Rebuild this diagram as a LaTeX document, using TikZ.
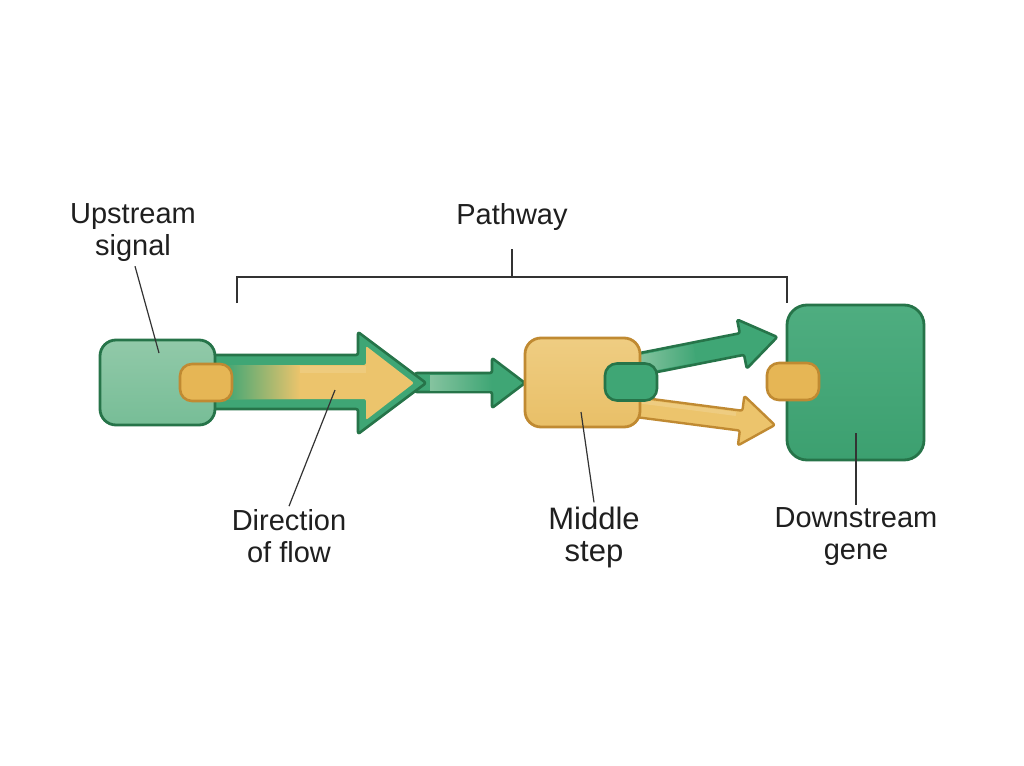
\documentclass[tikz,border=0pt]{standalone}
\usepackage{fontspec}
\setmainfont{Liberation Sans}
\definecolor{gdark}{HTML}{267449}
\definecolor{gmid}{HTML}{3FA675}
\definecolor{glight}{HTML}{85C39F}
\definecolor{yfill}{HTML}{ECC46C}
\definecolor{ydark}{HTML}{C08A32}
\definecolor{ypill}{HTML}{E6B655}
\definecolor{linec}{HTML}{333333}
\begin{document}
\begin{tikzpicture}[x=1pt,y=-1pt,
  box/.style={draw=gdark, line width=2.8pt, rounded corners=16pt, inner sep=0pt},
  ybox/.style={box, draw=ydark},
  pill/.style={rounded corners=12pt, line width=2.6pt, minimum width=52pt, minimum height=37pt, inner sep=0pt},
  ypillst/.style={pill, draw=ydark, fill=ypill},
  gpillst/.style={pill, draw=gdark, fill=gmid},
  garrow/.style={draw=gdark, line width=2.6pt, fill=gmid, rounded corners=2pt, line join=round},
  yarrow/.style={draw=ydark, line width=2.4pt, fill=yfill, rounded corners=2pt, line join=round},
  lbl/.style={font=\fontsize{29}{32}\selectfont, align=center, text=black!88, inner sep=0pt},
  leader/.style={draw=linec, line width=1.2pt}]
\useasboundingbox[fill=white] (0,0) rectangle (1024,765);

% small green arrow between big arrow and middle step
\draw[garrow] (415,373) -- (492,373) -- (492,358) -- (525,383) -- (492,408) -- (492,392) -- (415,392) -- cycle;
\begin{scope}
  \clip (430,375) rectangle (492,390);
  \shade[left color=glight, right color=gmid] (430,375) rectangle (492,390);
\end{scope}

% upper green arrow
\begin{scope}[shift={(636,365)}, rotate=11.2]
  \draw[garrow] (0,-11) -- (108,-11) -- (108,-25) -- (144,0) -- (108,25) -- (108,11) -- (0,11) -- cycle;
  \shade[left color=glight, right color=gmid] (5,-9) rectangle (60,9);
\end{scope}

% lower yellow arrow
\begin{scope}[shift={(636,407)}, rotate=-7.4]
  \draw[yarrow] (0,-10) -- (106,-10) -- (106,-25) -- (140,0) -- (106,25) -- (106,10) -- (0,10) -- cycle;
  \fill[white, opacity=.15] (4,-8) rectangle (100,-4);
\end{scope}

% big arrow (green outline, yellow inside)
\draw[garrow] (205,355) -- (358,355) -- (358,332) -- (426,383) -- (358,434) -- (358,409) -- (205,409) -- cycle;
\begin{scope}
  \clip[rounded corners=2pt] (225,365) -- (366,365) -- (366,346) -- (414,383) -- (366,420) -- (366,399) -- (225,399) -- cycle;
  \fill[yfill] (220,340) rectangle (420,425);
  \shade[left color=gmid, right color=yfill] (225,360) rectangle (300,405);
  \fill[white, opacity=.12] (300,366) rectangle (366,373);
\end{scope}

% upstream signal box
\node[box, minimum width=115pt, minimum height=85pt, top color=glight!90!white, bottom color=glight!80!gmid] (up) at (157.5,382.5) {};
\node[ypillst] (uppill) at (206,382.5) {};

% middle step box
\node[ybox, minimum width=115pt, minimum height=89pt, top color=yfill!85!white, bottom color=yfill!92!ydark] (mid) at (582.5,382.5) {};
\node[gpillst] (midpill) at (631,382) {};

% downstream gene box
\node[box, minimum width=137pt, minimum height=155pt, rounded corners=20pt, top color=gmid!92!white, bottom color=gmid!88!gdark] (down) at (855.5,382.5) {};
\node[ypillst] (downpill) at (793,381.5) {};

% labels
\node[lbl] (lup) at (133,233) {Upstream\\signal};
\node[lbl] (lpath) at (512,217) {Pathway};
\node[lbl] (ldir) at (289,536) {Direction\\of flow};
\node[lbl, font=\fontsize{31}{32}\selectfont] (lmid) at (594,537) {Middle\\step};
\node[lbl] (ldown) at (856,537) {Downstream\\gene};

% bracket
\coordinate (bl) at (237,303);
\coordinate (br) at (787,303);
\coordinate (bc) at (512,277);
\draw[leader] (bl) |- (bc) -| (br);
\draw[leader] (bc) -- (lpath.south |- 0,249);

% leader lines
\draw[leader] (lup.south) ++(2,4) -- (159,353);
\draw[leader] (ldir.north) ++(0,-3) -- (335,390);
\draw[leader] (lmid.north) ++(0,-4) -- (581,412);
\draw[leader] (ldown.north) ++(0,-3) -- (856,433);
\end{tikzpicture}
\end{document}
